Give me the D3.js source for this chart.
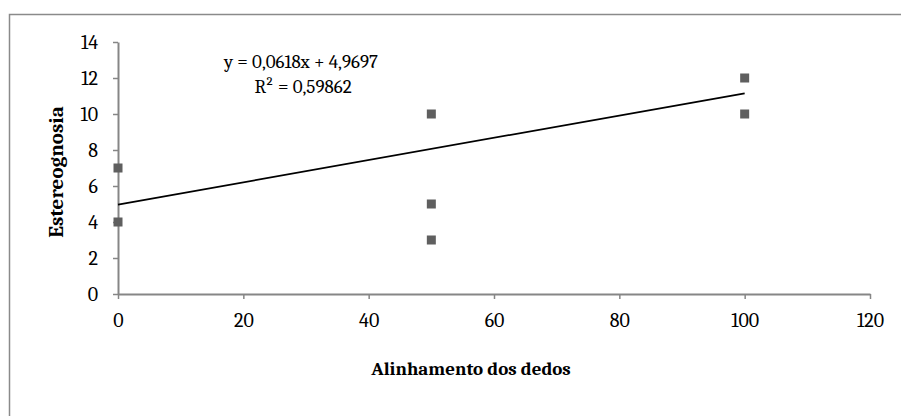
<!DOCTYPE html>
<html>
<head>
<meta charset="utf-8">
<script src="https://cdn.jsdelivr.net/npm/d3@7"></script>
<style>
  body { margin: 0; background: #fff; }
  svg { display: block; }
</style>
</head>
<body>
<div id="wrapper"></div>
<script>
// data
const xValues = [0, 0, 50, 50, 50, 100, 100];
const yValues = [7, 4, 10, 5, 3, 12, 10];
const xTicks = [0, 20, 40, 60, 80, 100, 120];
const yTicks = [0, 2, 4, 6, 8, 10, 12, 14];
const slope = 0.0618;
const intercept = 4.9697;
const equationLines = ["y = 0,0618x + 4,9697", "R² = 0,59862"];

const dimensions = {
  width: 901,
  height: 416,
  margins: { top: 42, right: 31, bottom: 122, left: 118 },
};
dimensions.boundedWidth = dimensions.width - dimensions.margins.left - dimensions.margins.right;
dimensions.boundedHeight = dimensions.height - dimensions.margins.top - dimensions.margins.bottom;

const font = "Cambria, Caladea, 'DejaVu Serif', serif";
const axisColor = "#868686";

const wrapper = d3.select("#wrapper")
  .append("svg")
  .attr("width", dimensions.width)
  .attr("height", dimensions.height);

// outer chart border (runs off the bottom/right of the frame)
wrapper.append("rect")
  .attr("x", 9.5)
  .attr("y", 14.5)
  .attr("width", 1000)
  .attr("height", 1000)
  .attr("fill", "none")
  .attr("stroke", "#8a8a8a")
  .attr("stroke-width", 1.5);

const bounds = wrapper.append("g")
  .attr("transform", `translate(${dimensions.margins.left}, ${dimensions.margins.top})`);

const xScale = d3.scaleLinear().domain([0, 120]).range([0, dimensions.boundedWidth]);
const yScale = d3.scaleLinear().domain([0, 14]).range([dimensions.boundedHeight, 0]);

// axes
const xAxis = bounds.append("g")
  .attr("transform", `translate(0, ${dimensions.boundedHeight})`)
  .call(d3.axisBottom(xScale).tickValues(xTicks).tickSize(5).tickSizeOuter(0));
const yAxis = bounds.append("g")
  .call(d3.axisLeft(yScale).tickValues(yTicks).tickSize(5).tickSizeOuter(0));

[xAxis, yAxis].forEach(ax => {
  ax.select(".domain").attr("stroke", axisColor).attr("stroke-width", 2);
  ax.selectAll(".tick line").attr("stroke", axisColor).attr("stroke-width", 1.5);
  ax.selectAll(".tick text")
    .attr("fill", "#000")
    .style("font-family", font)
    .style("font-size", "20px");
});
xAxis.selectAll(".tick text").attr("y", 15).attr("dy", "0.9em");
yAxis.selectAll(".tick text").attr("x", -20);

// trendline
const lineData = [0, 100].map(x => [x, slope * x + intercept]);
bounds.append("path")
  .datum(lineData)
  .attr("d", d3.line().x(d => xScale(d[0])).y(d => yScale(d[1])))
  .attr("stroke", "#000")
  .attr("stroke-width", 1.8)
  .attr("fill", "none");

// points
const size = 9;
bounds.selectAll("rect.pt")
  .data(xValues.map((x, i) => [x, yValues[i]]))
  .enter()
  .append("rect")
  .attr("class", "pt")
  .attr("x", d => xScale(d[0]) - size / 2)
  .attr("y", d => yScale(d[1]) - size / 2)
  .attr("width", size)
  .attr("height", size)
  .attr("fill", "#5f5f5f");

// equation label
wrapper.append("text")
  .attr("x", 301)
  .attr("y", 68)
  .attr("text-anchor", "middle")
  .style("font-family", font)
  .style("font-size", "19px")
  .text(equationLines[0]);
wrapper.append("text")
  .attr("x", 303)
  .attr("y", 93)
  .attr("text-anchor", "middle")
  .style("font-family", font)
  .style("font-size", "19px")
  .text(equationLines[1]);

// axis titles
wrapper.append("text")
  .attr("x", 471)
  .attr("y", 375)
  .attr("text-anchor", "middle")
  .style("font-family", font)
  .style("font-weight", "bold")
  .style("font-size", "19px")
  .text("Alinhamento dos dedos");

wrapper.append("text")
  .attr("transform", `translate(63, 172) rotate(-90)`)
  .attr("text-anchor", "middle")
  .style("font-family", font)
  .style("font-weight", "bold")
  .style("font-size", "21px")
  .text("Estereognosia");
</script>
</body>
</html>
